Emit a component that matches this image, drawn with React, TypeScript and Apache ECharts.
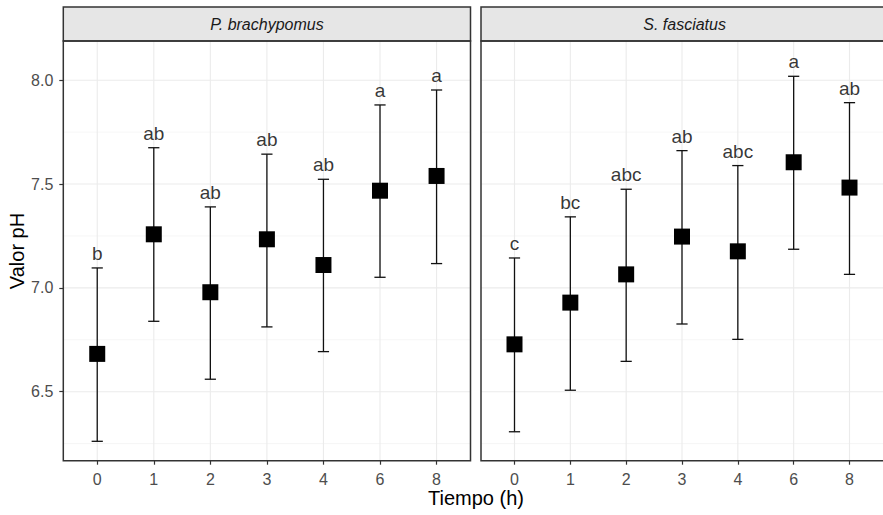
import React, { useEffect, useRef } from 'react';
import * as echarts from 'echarts';

const categories = ['0', '1', '2', '3', '4', '6', '8'];
const panelNames = ['P. brachypomus', 'S. fasciatus'];

const meanP = [6.682, 7.258, 6.979, 7.234, 7.11, 7.468, 7.539];
const upperP = [7.096, 7.675, 7.39, 7.644, 7.523, 7.881, 7.953];
const lowerP = [6.261, 6.839, 6.56, 6.812, 6.693, 7.051, 7.117];
const lettersP = ['b', 'ab', 'ab', 'ab', 'ab', 'a', 'a'];

const meanS = [6.728, 6.929, 7.065, 7.247, 7.176, 7.605, 7.483];
const upperS = [7.144, 7.342, 7.475, 7.661, 7.589, 8.019, 7.892];
const lowerS = [6.307, 6.507, 6.646, 6.826, 6.752, 7.186, 7.065];
const lettersS = ['c', 'bc', 'abc', 'ab', 'abc', 'a', 'ab'];

const yMajor = [6.5, 7.0, 7.5, 8.0];
const yMinor = [6.25, 6.75, 7.25, 7.75];

const FONT = '"Liberation Sans", Arial, sans-serif';

export default function App() {
  const ref = useRef<HTMLDivElement>(null);
  useEffect(() => {
    document.body.style.margin = '0';
    const chart = echarts.init(ref.current!, undefined, { renderer: 'svg' });
    const idx = categories.map((_, i) => i);
    const grids = [
      { left: 63.3, top: 41, width: 407.2, height: 419.7 },
      { left: 481, top: 41, width: 407.2, height: 419.7 },
    ];
    const panels = [
      { mean: meanP, upper: upperP, lower: lowerP, letters: lettersP },
      { mean: meanS, upper: upperS, lower: lowerS, letters: lettersS },
    ];
    // gridline definitions: [orientation (0 = horizontal, 1 = vertical), value, major?]
    const gridDefs = [
      ...yMinor.map((v) => [0, v, 0]),
      ...yMajor.map((v) => [0, v, 1]),
      ...idx.map((v) => [1, v, 1]),
    ];
    const series: any[] = [];
    panels.forEach((p, g) => {
      series.push({
        type: 'custom',
        xAxisIndex: g,
        yAxisIndex: g,
        silent: true,
        z: 0,
        clip: true,
        data: gridDefs.map((d) => ({ value: d })),
        renderItem: (params: any, api: any) => {
          const cs = params.coordSys;
          const orient = api.value(0);
          const v = api.value(1);
          const major = api.value(2) === 1;
          const style = { stroke: major ? '#ebebeb' : '#f4f4f4', lineWidth: major ? 1.1 : 0.8 };
          if (orient === 0) {
            const y = api.coord([0, v])[1];
            return { type: 'line', shape: { x1: cs.x, y1: y, x2: cs.x + cs.width, y2: y }, style };
          }
          const x = api.coord([v, 7])[0];
          return { type: 'line', shape: { x1: x, y1: cs.y, x2: x, y2: cs.y + cs.height }, style };
        },
      });
      series.push({
        type: 'custom',
        xAxisIndex: g,
        yAxisIndex: g,
        z: 2,
        data: idx.map((i) => [i, p.lower[i], p.upper[i]]),
        encode: { x: 0, y: [1, 2] },
        renderItem: (params: any, api: any) => {
          const x = api.value(0);
          const lo = api.coord([x, api.value(1)]);
          const hi = api.coord([x, api.value(2)]);
          const w = 5.6;
          const style = { stroke: '#111', lineWidth: 1.3, fill: 'none' };
          return {
            type: 'group',
            children: [
              { type: 'line', shape: { x1: lo[0], y1: lo[1], x2: hi[0], y2: hi[1] }, style },
              { type: 'line', shape: { x1: hi[0] - w, y1: hi[1], x2: hi[0] + w, y2: hi[1] }, style },
              { type: 'line', shape: { x1: lo[0] - w, y1: lo[1], x2: lo[0] + w, y2: lo[1] }, style },
            ],
          };
        },
      });
      series.push({
        type: 'scatter',
        xAxisIndex: g,
        yAxisIndex: g,
        z: 3,
        symbol: 'rect',
        symbolSize: 16,
        itemStyle: { color: '#000', opacity: 1 },
        data: idx.map((i) => [i, p.mean[i]]),
      });
      series.push({
        type: 'scatter',
        xAxisIndex: g,
        yAxisIndex: g,
        z: 4,
        symbolSize: 0,
        itemStyle: { color: 'transparent' },
        label: {
          show: true,
          position: 'top',
          distance: 5,
          color: '#000',
          fontSize: 19,
          fontFamily: FONT,
          formatter: (pr: any) => p.letters[pr.dataIndex],
        },
        data: idx.map((i) => [i, p.upper[i]]),
      });
    });

    const graphic: any[] = [];
    grids.forEach((gr, g) => {
      graphic.push({
        type: 'rect',
        shape: { x: gr.left, y: 7, width: gr.width, height: 34 },
        style: { fill: '#e6e6e6', stroke: '#333', lineWidth: 1.5 },
        z: 10,
      });
      graphic.push({
        type: 'text',
        x: gr.left + gr.width / 2,
        y: 24,
        style: {
          text: panelNames[g],
          fontSize: 16,
          fontStyle: 'italic',
          fontFamily: FONT,
          fill: '#1a1a1a',
          textAlign: 'center',
          textVerticalAlign: 'middle',
        },
        z: 11,
      });
      graphic.push({
        type: 'rect',
        shape: { x: gr.left, y: gr.top, width: gr.width, height: gr.height },
        style: { fill: 'none', stroke: '#333', lineWidth: 1.5 },
        z: 10,
      });
    });
    graphic.push({
      type: 'text',
      x: 476,
      y: 498,
      style: {
        text: 'Tiempo (h)',
        fontSize: 20,
        fontFamily: FONT,
        fill: '#000',
        textAlign: 'center',
        textVerticalAlign: 'middle',
      },
    });
    graphic.push({
      type: 'text',
      x: 17,
      y: 251,
      rotation: Math.PI / 2,
      style: {
        text: 'Valor pH',
        fontSize: 20,
        fontFamily: FONT,
        fill: '#000',
        textAlign: 'center',
        textVerticalAlign: 'middle',
      },
    });

    chart.setOption({
      animation: false,
      grid: grids.map((g) => ({ ...g, containLabel: false })),
      xAxis: grids.map((_, g) => ({
        type: 'value',
        gridIndex: g,
        position: 'bottom',
        min: -0.6,
        max: 6.6,
        axisLine: { show: false, onZero: false },
        splitLine: { show: false },
        axisTick: {
          show: true,
          customValues: idx,
          length: 4,
          lineStyle: { color: '#333', width: 1.2 },
        },
        axisLabel: {
          show: true,
          customValues: idx,
          margin: 11,
          color: '#4d4d4d',
          fontSize: 16,
          fontFamily: FONT,
          formatter: (v: number) => categories[Math.round(v)] ?? '',
        },
      })),
      yAxis: grids.map((_, g) => ({
        type: 'value',
        gridIndex: g,
        position: 'left',
        min: 6.1676,
        max: 8.189,
        axisLine: { show: false, onZero: false },
        splitLine: { show: false },
        axisTick: {
          show: g === 0,
          customValues: yMajor,
          length: 4,
          lineStyle: { color: '#333', width: 1.2 },
        },
        axisLabel: {
          show: g === 0,
          customValues: yMajor,
          margin: 10,
          color: '#4d4d4d',
          fontSize: 16,
          fontFamily: FONT,
          formatter: (v: number) => v.toFixed(1),
        },
      })),
      series,
      graphic,
    });
    return () => chart.dispose();
  }, []);
  return <div ref={ref} style={{ width: 883, height: 515, background: '#fff' }} />;
}
